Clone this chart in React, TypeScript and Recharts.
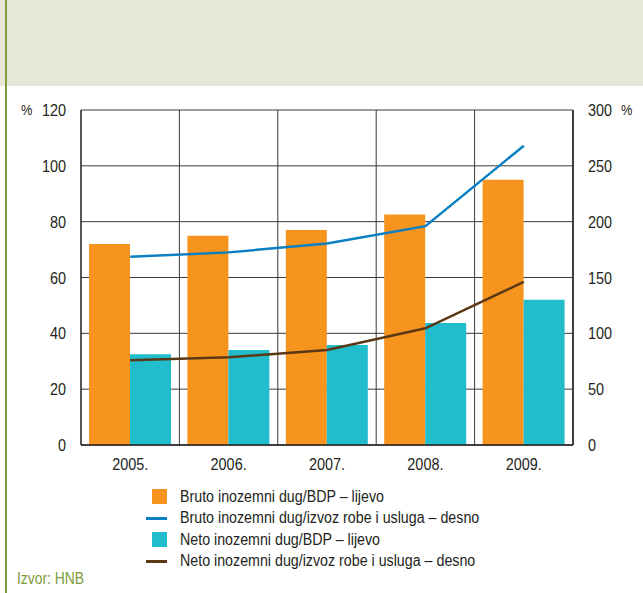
import { ComposedChart, Bar, Line, XAxis, YAxis, CartesianGrid, Legend } from 'recharts';

const years = ['2005.', '2006.', '2007.', '2008.', '2009.'];
const brutoBdp = [72, 75, 77, 82.6, 95];
const netoBdp = [32.5, 34, 35.8, 43.7, 52];
const brutoIzvoz = [168.5, 172.5, 180.5, 196, 268];
const netoIzvoz = [76, 78.5, 85, 104.5, 146];

const leftTicks = [0, 20, 40, 60, 80, 100, 120];
const rightTicks = [0, 50, 100, 150, 200, 250, 300];

const legendItems = [
  { label: 'Bruto inozemni dug/BDP – lijevo', color: '#f7941d', type: 'rect' },
  { label: 'Bruto inozemni dug/izvoz robe i usluga – desno', color: '#0a7fc2', type: 'line' },
  { label: 'Neto inozemni dug/BDP – lijevo', color: '#21bdcc', type: 'rect' },
  { label: 'Neto inozemni dug/izvoz robe i usluga – desno', color: '#5a3815', type: 'line' },
];

const data = years.map((year, i) => ({
  year,
  brutoBdp: brutoBdp[i],
  netoBdp: netoBdp[i],
  brutoIzvoz: brutoIzvoz[i],
  netoIzvoz: netoIzvoz[i],
}));

// no narrow font installed, so Liberation Sans gets squeezed horizontally
const FONT = '"Liberation Sans", Arial, sans-serif';
const TEXT = '#231f20';
const SQUEEZE = 0.85;

function TickText({ x, y, value, anchor, dy, size = 17 }: any) {
  return (
    <text
      transform={`translate(${x},${y}) scale(${SQUEEZE},1)`}
      x={0}
      y={0}
      dy={dy}
      textAnchor={anchor}
      fill={TEXT}
      fontSize={size}
      fontFamily={FONT}
    >
      {value}
    </text>
  );
}

function LeftTick({ x, y, payload }: any) {
  return (
    <g>
      <TickText x={x} y={y} value={payload.value} anchor="end" dy="0.355em" />
      {payload.value === 120 && <TickText x={21} y={y} value="%" anchor="start" dy="0.355em" size={15} />}
    </g>
  );
}

function RightTick({ x, y, payload }: any) {
  return (
    <g>
      <TickText x={x} y={y} value={payload.value} anchor="start" dy="0.355em" />
      {payload.value === 300 && <TickText x={621} y={y} value="%" anchor="start" dy="0.355em" size={15} />}
    </g>
  );
}

function YearTick({ x, y, payload }: any) {
  return <TickText x={x} y={y} value={payload.value} anchor="middle" dy="0.71em" />;
}

function CustomLegend() {
  return (
    <div style={{ fontFamily: FONT, color: TEXT }}>
      {legendItems.map((item) => (
        <div key={item.label} style={{ display: 'flex', alignItems: 'center', height: 21.5 }}>
          <div style={{ width: 21, display: 'flex', justifyContent: 'flex-end', marginRight: 13 }}>
            {item.type === 'rect' ? (
              <div style={{ width: 15, height: 15, background: item.color }} />
            ) : (
              <div style={{ width: 21, height: 3, background: item.color }} />
            )}
          </div>
          <span
            style={{
              display: 'inline-block',
              fontSize: 16,
              whiteSpace: 'nowrap',
              transform: 'scaleX(0.89)',
              transformOrigin: 'left center',
            }}
          >
            {item.label}
          </span>
        </div>
      ))}
    </div>
  );
}

export default function App() {
  return (
    <div style={{ position: 'fixed', left: 0, top: 0, width: 643, height: 593, background: '#fff', overflow: 'hidden' }}>
      <div style={{ position: 'absolute', left: 0, top: 0, width: 643, height: 86, background: '#e6e7d9' }} />
      <div style={{ position: 'absolute', left: 5, top: 0, width: 1.5, height: 593, background: '#7d9b3b' }} />
      <div
        style={{
          position: 'absolute',
          left: 17,
          top: 569,
          fontFamily: FONT,
          fontSize: 16.5,
          color: '#7d9b3b',
          whiteSpace: 'nowrap',
          transform: 'scaleX(0.84)',
          transformOrigin: 'left center',
        }}
      >
        Izvor: HNB
      </div>
      <div style={{ position: 'absolute', left: 0, top: 0 }}>
        <ComposedChart
          width={643}
          height={593}
          data={data}
          margin={{ top: 110, right: 0, bottom: 118, left: 0 }}
          barCategoryGap={8}
          barGap={0}
        >
          <CartesianGrid
            yAxisId="left"
            stroke="#3a3a3a"
            strokeWidth={1}
            verticalCoordinatesGenerator={({ offset }: any) =>
              years.map((_, i) => offset.left + ((i + 1) * offset.width) / years.length)
            }
          />
          <XAxis
            dataKey="year"
            axisLine={{ stroke: '#231f20', strokeWidth: 1.5 }}
            tickLine={false}
            tickSize={0}
            tickMargin={13}
            height={30}
            tick={<YearTick />}
            interval={0}
          />
          <YAxis
            yAxisId="left"
            domain={[0, 120]}
            ticks={leftTicks}
            width={81}
            axisLine={{ stroke: '#231f20', strokeWidth: 1.5 }}
            tickLine={false}
            tickSize={0}
            tickMargin={15}
            tick={<LeftTick />}
            interval={0}
          />
          <YAxis
            yAxisId="right"
            orientation="right"
            domain={[0, 300]}
            ticks={rightTicks}
            width={70}
            axisLine={{ stroke: '#231f20', strokeWidth: 1.5 }}
            tickLine={false}
            tickSize={0}
            tickMargin={15}
            tick={<RightTick />}
            interval={0}
          />
          <Legend
            verticalAlign="middle"
            align="center"
            content={<CustomLegend />}
            wrapperStyle={{ position: 'absolute', left: 146, top: 486, width: 400, height: 90 }}
          />
          <Bar yAxisId="left" dataKey="brutoBdp" fill="#f7941d" isAnimationActive={false} />
          <Bar yAxisId="left" dataKey="netoBdp" fill="#21bdcc" isAnimationActive={false} />
          <Line
            yAxisId="right"
            type="linear"
            dataKey="brutoIzvoz"
            stroke="#0a7fc2"
            strokeWidth={2.5}
            dot={false}
            isAnimationActive={false}
          />
          <Line
            yAxisId="right"
            type="linear"
            dataKey="netoIzvoz"
            stroke="#5a3815"
            strokeWidth={2.5}
            dot={false}
            isAnimationActive={false}
          />
        </ComposedChart>
      </div>
    </div>
  );
}
